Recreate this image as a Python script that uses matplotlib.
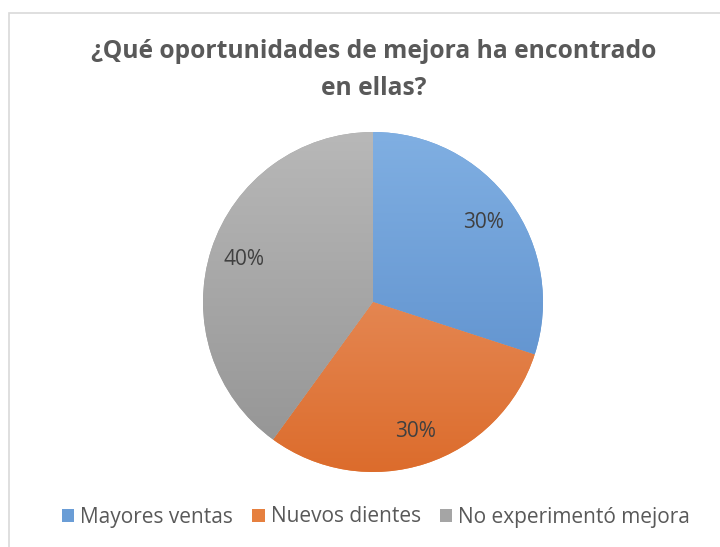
import matplotlib.pyplot as plt
import numpy as np
from matplotlib.colors import LinearSegmentedColormap
from matplotlib.patches import Rectangle

# Datos
categorias = ["Mayores ventas", "Nuevos dientes", "No experimentó mejora"]
valores = [30, 30, 40]
etiquetas = ["30%", "30%", "40%"]

titulo = "¿Qué oportunidades de mejora ha encontrado\nen ellas?"

# colores (arriba claro, abajo oscuro, como el degradado de Excel)
colores = ["#6a9dd6", "#e6803f", "#a5a5a5"]
claros = ["#80afe2", "#eda076", "#b8b8b8"]
oscuros = ["#5689c8", "#dc6c2c", "#939393"]

texto_gris = "#595959"

fig = plt.figure(figsize=(7.2, 5.47), dpi=100)
W, H = 720, 547

# borde del area del grafico
fig.patches.append(
    Rectangle((9 / W, -0.1), 1.2, 1.1 - 13 / H, transform=fig.transFigure,
              fill=False, edgecolor="#d9d9d9", linewidth=1.2)
)

# --- Pie ---
cx, cy, r = 373, 302, 170
ax = fig.add_axes([(cx - r) / W, (H - cy - r) / H, 2 * r / W, 2 * r / H])
wedges, _, autotexts = ax.pie(
    valores,
    colors=colores,
    startangle=90,
    counterclock=False,
    autopct="%1.0f%%",
    pctdistance=0.8,
    wedgeprops=dict(linewidth=0),
    textprops=dict(color="#404040", fontsize=15, family=["Open Sans", "DejaVu Sans"]),
)
for t, lab in zip(autotexts, etiquetas):
    t.set_text(lab)

# degradado vertical dentro de cada sector
grad = np.linspace(0, 1, 256).reshape(-1, 1)
for w, c1, c2 in zip(wedges, claros, oscuros):
    cmap = LinearSegmentedColormap.from_list("g", [c1, c2])
    im = ax.imshow(grad, cmap=cmap, extent=(-1, 1, -1, 1), origin="upper",
                   aspect="auto", zorder=w.get_zorder())
    im.set_clip_path(w)
for t in autotexts:
    t.set_zorder(5)

ax.set_xlim(-1, 1)
ax.set_ylim(-1, 1)
ax.set_axis_off()

# --- Titulo ---
fig.text(374 / W, 1 - 70 / H, titulo, ha="center", va="center",
         fontsize=17.7, fontweight="bold", color=texto_gris,
         family=["Open Sans", "DejaVu Sans"], linespacing=1.62)

# --- Leyenda ---
leg = fig.legend(
    wedges, categorias,
    loc="center", bbox_to_anchor=(376 / W, 1 - 517 / H),
    ncol=3, frameon=False, handlelength=0.6, handleheight=0.6,
    handletextpad=0.3, columnspacing=0.9,
    prop=dict(family=["Open Sans", "DejaVu Sans"], size=15),
)
for txt in leg.get_texts():
    txt.set_color(texto_gris)

fig.savefig("out.png", dpi=100, facecolor="white")
